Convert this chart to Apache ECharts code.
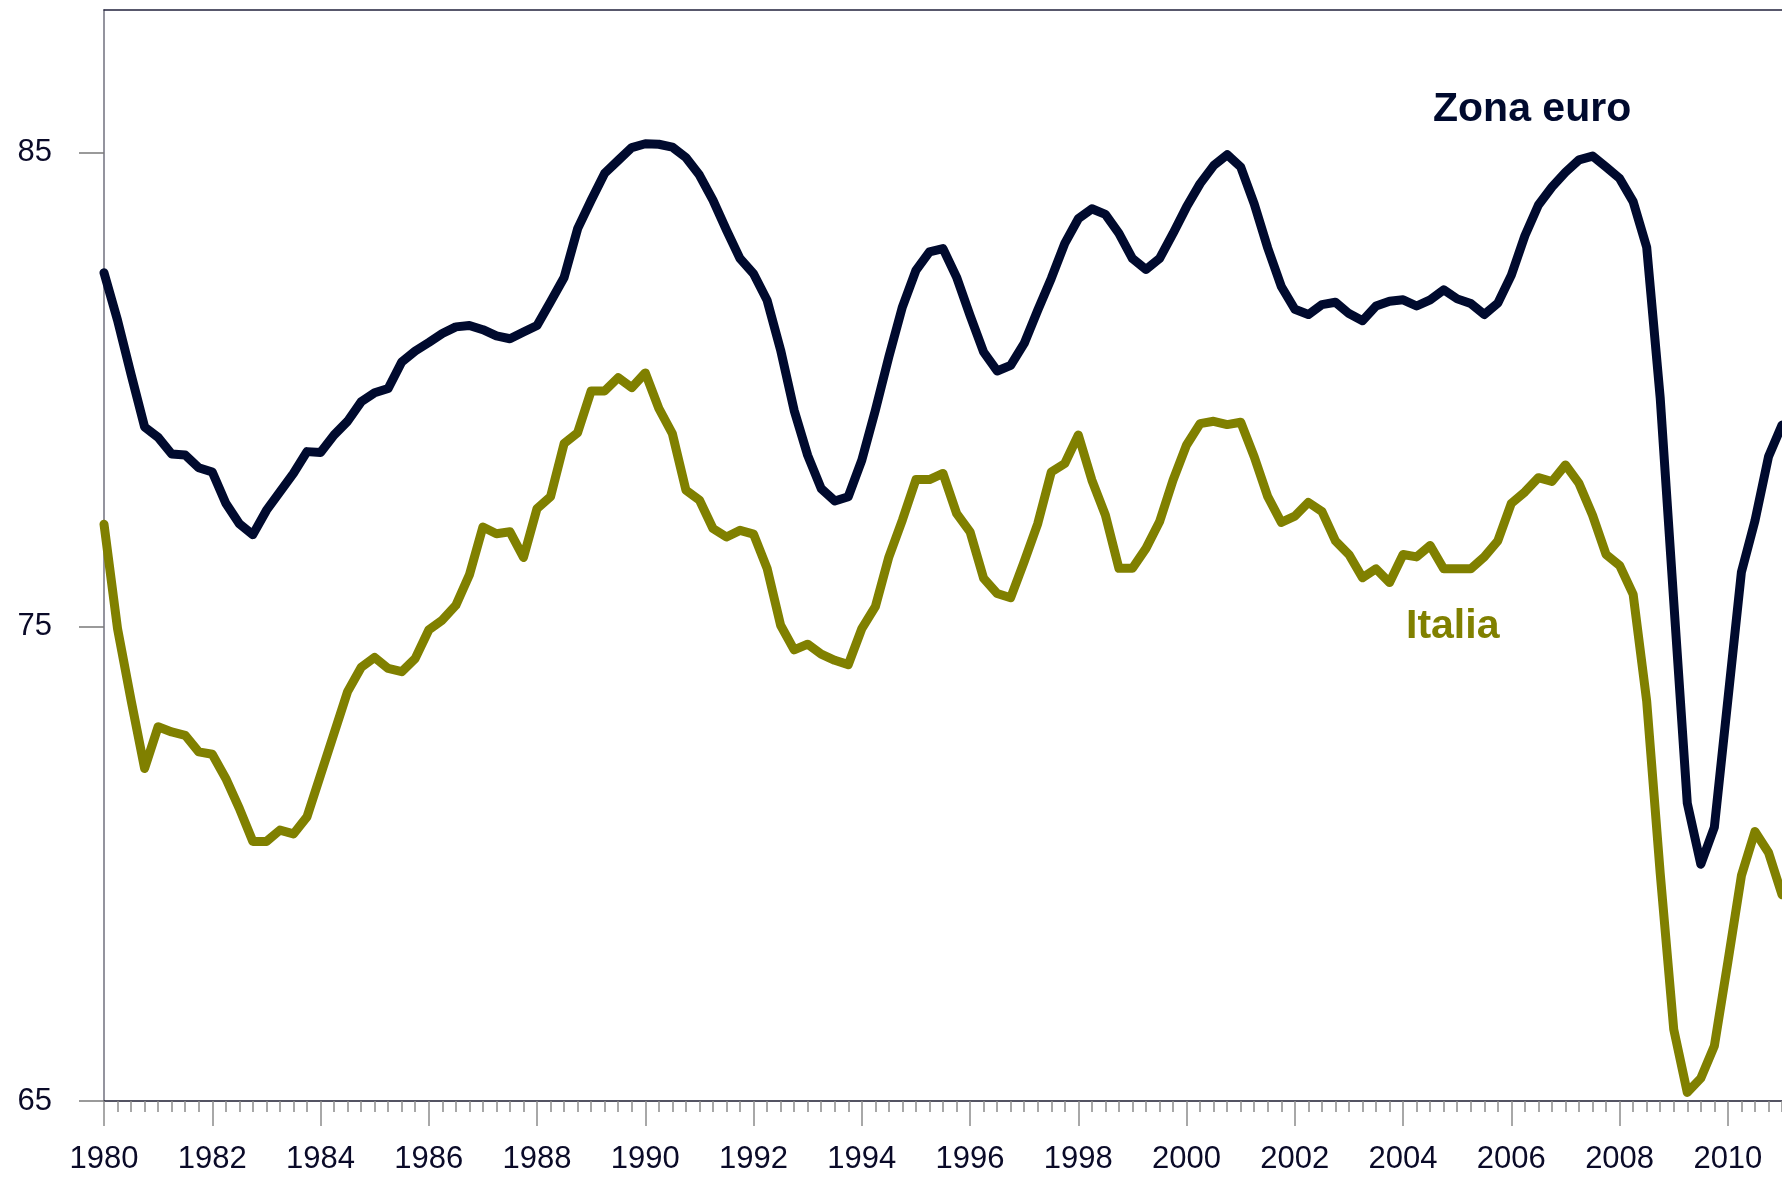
<!DOCTYPE html>
<html>
<head>
<meta charset="utf-8">
<script src="https://cdn.jsdelivr.net/npm/echarts@6/dist/echarts.min.js"></script>
<style>
  html, body { margin: 0; padding: 0; background: #ffffff; }
  #chart { width: 1782px; height: 1178px; }
</style>
</head>
<body>
<div id="chart"></div>
<script>
// Quarterly series, 1980 T1 – 2011 T1
const firstYear = 1980;

const zonaEuro = [
  82.46, 81.46, 80.32, 79.21, 78.99, 78.64, 78.62, 78.35, 78.26, 77.60,
  77.17, 76.94, 77.45, 77.84, 78.23, 78.69, 78.67, 79.04, 79.33, 79.74,
  79.93, 80.02, 80.58, 80.81, 80.99, 81.18, 81.32, 81.35, 81.26, 81.13,
  81.07, 81.21, 81.35, 81.85, 82.36, 83.39, 83.99, 84.56, 84.83, 85.10,
  85.18, 85.17, 85.11, 84.89, 84.52, 83.99, 83.36, 82.76, 82.44, 81.88,
  80.83, 79.56, 78.61, 77.91, 77.65, 77.74, 78.51, 79.56, 80.69, 81.74,
  82.51, 82.90, 82.97, 82.37, 81.56, 80.79, 80.39, 80.51, 80.97, 81.67,
  82.34, 83.08, 83.60, 83.81, 83.69, 83.29, 82.76, 82.53, 82.76, 83.29,
  83.85, 84.34, 84.72, 84.95, 84.69, 83.91, 82.98, 82.17, 81.69, 81.58,
  81.79, 81.84, 81.60, 81.45, 81.76, 81.86, 81.89, 81.76, 81.89, 82.10,
  81.91, 81.81, 81.58, 81.82, 82.41, 83.24, 83.89, 84.27, 84.58, 84.84,
  84.92, 84.69, 84.45, 83.96, 83.00, 79.82, 75.53, 71.28, 69.99, 70.77,
  73.46, 76.15, 77.23, 78.58, 79.25
];

const italia = [
  77.16, 74.96, 73.45, 72.01, 72.89, 72.78, 72.71, 72.36, 72.31, 71.80,
  71.17, 70.47, 70.47, 70.71, 70.63, 70.99, 71.87, 72.75, 73.63, 74.14,
  74.35, 74.12, 74.05, 74.33, 74.93, 75.14, 75.45, 76.09, 77.10, 76.96,
  77.00, 76.46, 77.49, 77.74, 78.86, 79.09, 79.97, 79.97, 80.25, 80.04,
  80.35, 79.60, 79.07, 77.88, 77.67, 77.07, 76.89, 77.03, 76.95, 76.23,
  75.03, 74.51, 74.63, 74.42, 74.29, 74.20, 74.96, 75.42, 76.47, 77.25,
  78.10, 78.10, 78.23, 77.39, 77.00, 76.02, 75.70, 75.61, 76.37, 77.17,
  78.26, 78.44, 79.04, 78.09, 77.35, 76.23, 76.23, 76.65, 77.21, 78.09,
  78.83, 79.28, 79.33, 79.26, 79.31, 78.58, 77.74, 77.20, 77.33, 77.62,
  77.43, 76.81, 76.52, 76.03, 76.22, 75.93, 76.52, 76.47, 76.71, 76.22,
  76.22, 76.22, 76.47, 76.81, 77.60, 77.84, 78.14, 78.06, 78.41, 78.02,
  77.35, 76.52, 76.29, 75.68, 73.43, 69.80, 66.51, 65.18, 65.48, 66.16,
  67.93, 69.75, 70.68, 70.24, 69.35
];

const yTicks = [65, 75, 85];
const yMin = 65;
const yMax = 88;

// Category labels, one per quarter
const quarters = zonaEuro.map((_, i) => (firstYear + Math.floor(i / 4)) + ' T' + (i % 4 + 1));

const NAVY = '#000a2e';
const OLIVE = '#808000';
const FONT = '"Liberation Sans", Arial, sans-serif';

const gridBox = { left: 104, right: 0, top: 10, bottom: 77 };

const chart = echarts.init(document.getElementById('chart'), null, { renderer: 'canvas' });

chart.setOption({
  animation: false,
  backgroundColor: '#ffffff',
  grid: [
    Object.assign({ containLabel: false }, gridBox),
    Object.assign({ containLabel: false }, gridBox)
  ],
  xAxis: [
    {
      // quarterly minor ticks and the bottom axis line
      type: 'category', gridIndex: 0, data: quarters, boundaryGap: false,
      position: 'bottom',
      axisLine: { show: true, lineStyle: { color: '#1c1c30', width: 1.5 } },
      axisTick: { show: true, interval: 0, length: 11, lineStyle: { color: '#8c8c8c', width: 1.5 } },
      axisLabel: { show: false },
      splitLine: { show: false }
    },
    {
      // frame line along the top of the plot
      type: 'category', gridIndex: 0, data: quarters, boundaryGap: false,
      position: 'top',
      axisLine: { show: true, lineStyle: { color: '#22223c', width: 1.5 } },
      axisTick: { show: false },
      axisLabel: { show: false },
      splitLine: { show: false }
    },
    {
      // two-year major ticks with year labels
      type: 'category', gridIndex: 1, data: quarters, boundaryGap: false,
      position: 'bottom',
      axisLine: { show: false },
      axisTick: { show: true, interval: 7, length: 25, lineStyle: { color: '#8c8c8c', width: 1.5 } },
      axisLabel: {
        show: true, interval: 7, margin: 43,
        fontFamily: FONT, fontSize: 31, color: '#0a0a28',
        formatter: (v) => v.slice(0, 4)
      },
      splitLine: { show: false }
    }
  ],
  yAxis: [
    {
      type: 'value', gridIndex: 0, min: yMin, max: yMax,
      axisLine: { show: true, lineStyle: { color: '#70707e', width: 1.5 } },
      axisTick: { show: true, length: 25, customValues: yTicks, lineStyle: { color: '#7a7a7a', width: 1.5 } },
      axisLabel: {
        show: true, margin: 52, customValues: yTicks,
        fontFamily: FONT, fontSize: 31, color: '#0a0a28'
      },
      splitLine: { show: false }
    },
    {
      type: 'value', gridIndex: 1, min: 0, max: 1, show: false
    }
  ],
  series: [
    {
      name: 'Zona euro', type: 'line', xAxisIndex: 0, yAxisIndex: 0,
      data: zonaEuro, showSymbol: false, symbol: 'none', clip: false, z: 3,
      lineStyle: { color: NAVY, width: 9, cap: 'round', join: 'round' }
    },
    {
      name: 'Italia', type: 'line', xAxisIndex: 0, yAxisIndex: 0,
      data: italia, showSymbol: false, symbol: 'none', clip: false, z: 3,
      lineStyle: { color: OLIVE, width: 9, cap: 'round', join: 'round' }
    }
  ],
  graphic: [
    {
      type: 'text', x: 1433, y: 110, z: 10,
      style: {
        text: 'Zona euro', fill: NAVY, fontFamily: FONT, fontWeight: 'bold', fontSize: 41,
        textAlign: 'left', textVerticalAlign: 'middle'
      }
    },
    {
      type: 'text', x: 1406, y: 627, z: 10,
      style: {
        text: 'Italia', fill: OLIVE, fontFamily: FONT, fontWeight: 'bold', fontSize: 41,
        textAlign: 'left', textVerticalAlign: 'middle'
      }
    }
  ]
});
</script>
</body>
</html>
